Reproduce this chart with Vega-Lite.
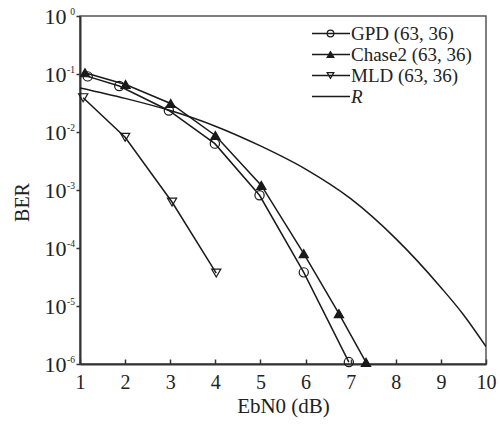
{
  "$schema": "https://vega.github.io/schema/vega-lite/v6.json",
  "autosize": {"type": "none"},
  "padding": {"left": 80, "top": 16, "right": 14, "bottom": 61},
  "width": 406,
  "height": 348,
  "background": "white",
  "config": {
    "font": "Liberation Serif",
    "view": {"stroke": "#555", "strokeWidth": 1.5},
    "axis": {
      "grid": false,
      "labelFont": "Liberation Serif",
      "titleFont": "Liberation Serif",
      "labelColor": "#222",
      "titleColor": "#222",
      "titleFontWeight": "normal",
      "domainColor": "#333",
      "domainWidth": 2,
      "tickColor": "#333",
      "tickWidth": 1.5
    },
    "legend": {"labelFont": "Liberation Serif"}
  },
  "datasets": {
    "curves": [
      {"ebn0": 1.17, "ber": 0.091, "series": "GPD (63, 36)"},
      {"ebn0": 1.87, "ber": 0.062, "series": "GPD (63, 36)"},
      {"ebn0": 2.97, "ber": 0.0235, "series": "GPD (63, 36)"},
      {"ebn0": 3.99, "ber": 0.0063, "series": "GPD (63, 36)"},
      {"ebn0": 4.98, "ber": 0.00081, "series": "GPD (63, 36)"},
      {"ebn0": 5.96, "ber": 0.000038, "series": "GPD (63, 36)"},
      {"ebn0": 6.96, "ber": 0.00000108, "series": "GPD (63, 36)"},
      {"ebn0": 1.11, "ber": 0.105, "series": "Chase2 (63, 36)"},
      {"ebn0": 2.01, "ber": 0.066, "series": "Chase2 (63, 36)"},
      {"ebn0": 3.01, "ber": 0.031, "series": "Chase2 (63, 36)"},
      {"ebn0": 4.0, "ber": 0.0087, "series": "Chase2 (63, 36)"},
      {"ebn0": 5.02, "ber": 0.0012, "series": "Chase2 (63, 36)"},
      {"ebn0": 5.96, "ber": 0.00008, "series": "Chase2 (63, 36)"},
      {"ebn0": 6.74, "ber": 0.0000074, "series": "Chase2 (63, 36)"},
      {"ebn0": 7.34, "ber": 0.00000107, "series": "Chase2 (63, 36)"},
      {"ebn0": 1.07, "ber": 0.039, "series": "MLD (63, 36)"},
      {"ebn0": 2.0, "ber": 0.0081, "series": "MLD (63, 36)"},
      {"ebn0": 3.04, "ber": 0.00062, "series": "MLD (63, 36)"},
      {"ebn0": 4.02, "ber": 0.000037, "series": "MLD (63, 36)"},
      {"ebn0": 1.0, "ber": 0.0575, "series": "R"},
      {"ebn0": 2.0, "ber": 0.038, "series": "R"},
      {"ebn0": 3.0, "ber": 0.0234, "series": "R"},
      {"ebn0": 4.0, "ber": 0.0126, "series": "R"},
      {"ebn0": 5.0, "ber": 0.00575, "series": "R"},
      {"ebn0": 6.0, "ber": 0.00229, "series": "R"},
      {"ebn0": 7.0, "ber": 0.000708, "series": "R"},
      {"ebn0": 8.0, "ber": 0.000145, "series": "R"},
      {"ebn0": 9.0, "ber": 0.0000209, "series": "R"},
      {"ebn0": 9.5, "ber": 0.00000708, "series": "R"},
      {"ebn0": 10.0, "ber": 0.000002, "series": "R"}
    ]
  },
  "data": {"name": "curves"},
  "encoding": {
    "x": {
      "field": "ebn0",
      "type": "quantitative",
      "scale": {"domain": [1, 10], "nice": false, "zero": false},
      "axis": {
        "values": [1, 2, 3, 4, 5, 6, 7, 8, 9, 10],
        "format": "d",
        "tickSize": -5,
        "labelPadding": 13,
        "labelFontSize": 20,
        "labelFlush": false,
        "title": "EbN0 (dB)",
        "titleFontSize": 21,
        "titleBaseline": "alphabetic",
        "titleY": 48
      }
    }
  },
  "layer": [
    {
      "transform": [{"filter": "datum.series !== 'R'"}],
      "mark": {"type": "line", "strokeWidth": 1.5, "clip": true},
      "encoding": {
        "y": {
          "field": "ber",
          "type": "quantitative",
          "scale": {"type": "log", "domain": [0.000001, 1], "nice": false},
          "axis": {
            "orient": "left",
            "values": [0.000001, 0.00001, 0.0001, 0.001, 0.01, 0.1, 1],
            "labelExpr": "'10'",
            "labelFontSize": 22,
            "tickSize": 4,
            "labelPadding": 10,
            "title": "BER",
            "titleFontSize": 20,
            "titleBaseline": "alphabetic",
            "titleX": -52,
            "titleY": 186
          }
        },
        "stroke": {
          "field": "series",
          "type": "nominal",
          "scale": {"domain": ["GPD (63, 36)", "Chase2 (63, 36)", "MLD (63, 36)", "R"], "range": ["#1a1a1a", "#1a1a1a", "#1a1a1a", "#1a1a1a"]},
          "legend": {
            "orient": "none",
            "legendX": 231,
            "legendY": 7,
            "padding": 0,
            "title": null,
            "symbolType": "stroke",
            "symbolSize": 1444,
            "symbolStrokeWidth": 1.5,
            "symbolStrokeColor": "#1a1a1a",
            "clipHeight": 21,
            "rowPadding": 0,
            "labelOffset": 0,
            "labelFontSize": 19,
            "labelColor": "#222",
            "labelFontStyle": {"expr": "datum.value === 'R' ? 'italic' : 'normal'"}
          }
        }
      }
    },
    {
      "transform": [{"filter": "datum.series === 'R'"}],
      "mark": {"type": "line", "strokeWidth": 1.5, "interpolate": "monotone", "clip": true},
      "encoding": {
        "y": {
          "field": "ber",
          "type": "quantitative",
          "scale": {"type": "log", "domain": [0.000001, 1], "nice": false},
          "axis": null
        },
        "stroke": {"field": "series", "type": "nominal"}
      }
    },
    {
      "transform": [{"filter": "datum.series !== 'R'"}],
      "mark": {"type": "point", "filled": false, "strokeWidth": 1.2, "size": 85, "opacity": 1},
      "encoding": {
        "y": {
          "field": "ber",
          "type": "quantitative",
          "scale": {"type": "log", "domain": [0.000001, 1], "nice": false},
          "axis": {
            "orient": "left",
            "values": [0.000001, 0.00001, 0.0001, 0.001, 0.01, 0.1, 1],
            "labelExpr": "'' + round(log(datum.value) / LN10)",
            "labelFontSize": 9.5,
            "labelOffset": -5,
            "domain": false,
            "ticks": false,
            "tickSize": 0,
            "labelPadding": 5.5,
            "title": null
          }
        },
        "color": {
          "field": "series",
          "type": "nominal",
          "scale": {"domain": ["GPD (63, 36)", "Chase2 (63, 36)", "MLD (63, 36)"], "range": ["#1a1a1a", "#1a1a1a", "#1a1a1a"]},
          "legend": {
            "orient": "none",
            "legendX": 231,
            "legendY": 7,
            "padding": 0,
            "title": null,
            "symbolSize": 45,
            "symbolStrokeWidth": 1.2,
            "symbolOffset": 10,
            "clipHeight": 21,
            "rowPadding": 0,
            "labelOffset": 0,
            "labelFontSize": 19,
            "labelExpr": "''"
          }
        },
        "shape": {
          "field": "series",
          "type": "nominal",
          "scale": {"domain": ["GPD (63, 36)", "Chase2 (63, 36)", "MLD (63, 36)"], "range": ["circle", "triangle-up", "triangle-down"]},
          "legend": {
            "orient": "none",
            "legendX": 231,
            "legendY": 7,
            "padding": 0,
            "title": null,
            "symbolSize": 45,
            "symbolStrokeWidth": 1.2,
            "symbolOffset": 10,
            "clipHeight": 21,
            "rowPadding": 0,
            "labelOffset": 0,
            "labelFontSize": 19,
            "labelExpr": "''"
          }
        },
        "fill": {
          "field": "series",
          "type": "nominal",
          "scale": {"domain": ["GPD (63, 36)", "Chase2 (63, 36)", "MLD (63, 36)"], "range": ["transparent", "#1a1a1a", "transparent"]},
          "legend": {
            "orient": "none",
            "legendX": 231,
            "legendY": 7,
            "padding": 0,
            "title": null,
            "symbolSize": 45,
            "symbolStrokeWidth": 1.2,
            "symbolOffset": 10,
            "clipHeight": 21,
            "rowPadding": 0,
            "labelOffset": 0,
            "labelFontSize": 19,
            "labelExpr": "''"
          }
        }
      }
    }
  ],
  "resolve": {"axis": {"y": "independent"}}
}
